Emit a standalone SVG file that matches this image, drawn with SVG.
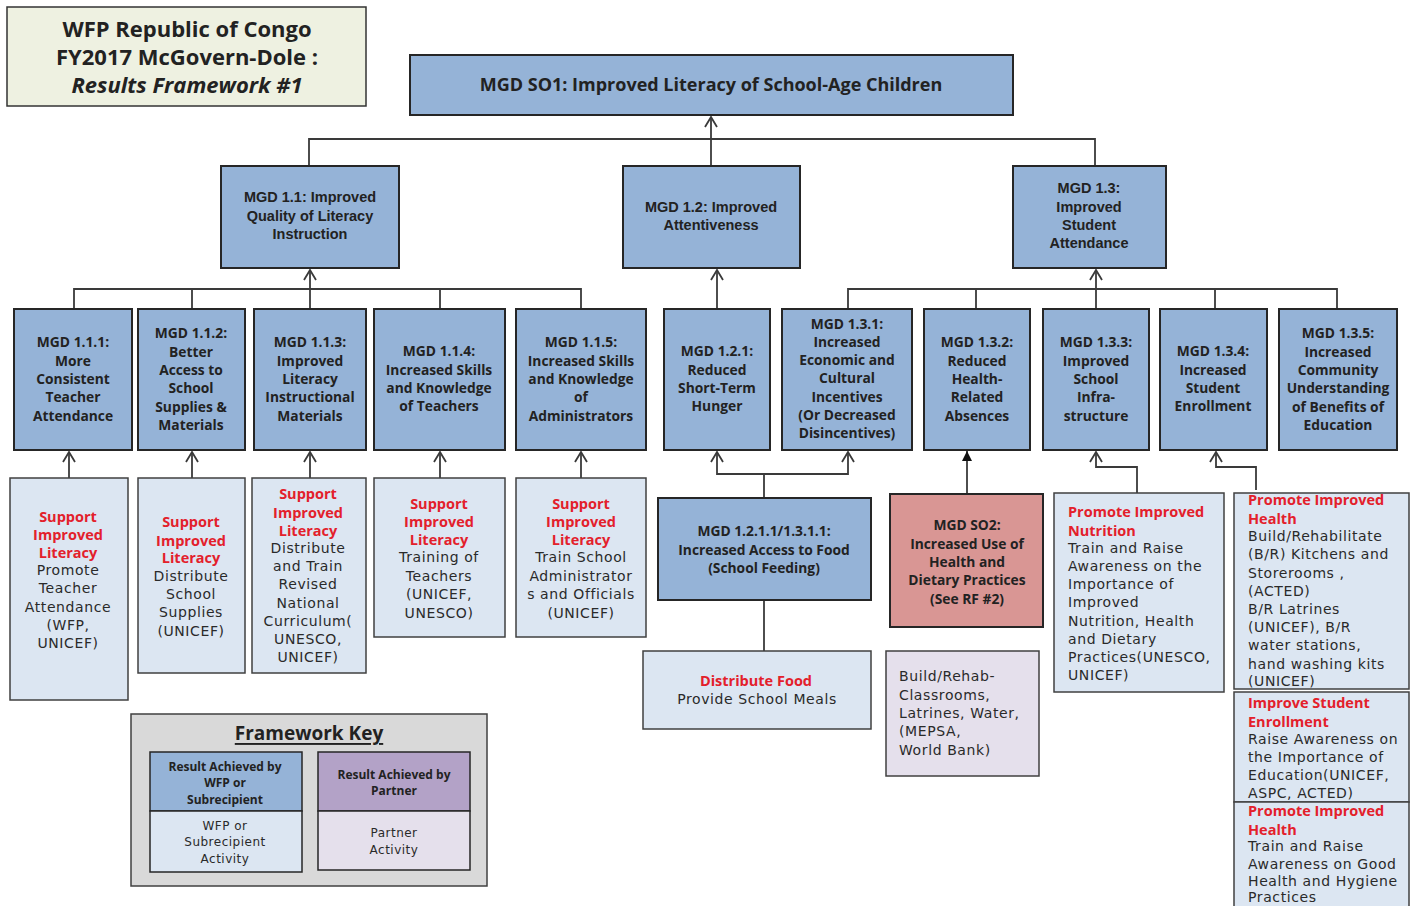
<svg xmlns="http://www.w3.org/2000/svg" width="1415" height="906" viewBox="0 0 1415 906">
<defs>
<style>
.bg{fill:#ffffff}
.b{fill:#95b3d7;stroke:#262626;stroke-width:2}
.a{fill:#dce6f2;stroke:#404040;stroke-width:1.5}
.p{fill:#e5e0ec;stroke:#404040;stroke-width:1.5}
.so2{fill:#d99694;stroke:#262626;stroke-width:2}
.ttl{fill:#eef1e1;stroke:#333;stroke-width:1.5}
.key{fill:#d9d9d9;stroke:#404040;stroke-width:1.5}
.kb{fill:#95b3d7;stroke:#262626;stroke-width:1.5}
.kl{fill:#dce6f2;stroke:#262626;stroke-width:1.5}
.kp{fill:#b3a2c7;stroke:#262626;stroke-width:1.5}
.kq{fill:#e5e0ec;stroke:#262626;stroke-width:1.5}
text{dominant-baseline:central;fill:#222}
.h{font-family:"Open Sans",sans-serif;font-weight:bold;font-size:22px;text-anchor:middle}
.hi{font-style:italic}
.s1{font-family:"Open Sans",sans-serif;font-weight:bold;font-size:18px;text-anchor:middle}
.t2{font-family:"Liberation Sans",sans-serif;font-weight:bold;font-size:14.5px;text-anchor:middle}
.t3{font-family:"Open Sans",sans-serif;font-weight:bold;font-size:13.8px;text-anchor:middle}
.r{font-family:"Open Sans",sans-serif;font-weight:bold;font-size:14.5px;fill:#e3202b}
.k{font-family:"DejaVu Sans",sans-serif;font-size:14px;letter-spacing:0.6px;fill:#2a2a2a}
.c{text-anchor:middle}
.fk{font-family:"Open Sans",sans-serif;font-weight:bold;font-size:19px;text-anchor:middle;text-decoration:underline}
.kt{font-family:"Open Sans",sans-serif;font-weight:bold;font-size:12px;text-anchor:middle}
.kr{font-family:"DejaVu Sans",sans-serif;font-size:12px;letter-spacing:0.5px;text-anchor:middle;fill:#2a2a2a}
.ln{fill:none;stroke:#3a3a3a;stroke-width:1.8}
</style>
<marker id="oa" viewBox="0 0 12 14" refX="11" refY="7" markerWidth="12" markerHeight="14" markerUnits="userSpaceOnUse" orient="auto">
<path d="M1,1 L11,7 L1,13" fill="none" stroke="#3a3a3a" stroke-width="1.8"/>
</marker>
<marker id="fa" viewBox="0 0 10 10" refX="10" refY="5" markerWidth="10" markerHeight="10" markerUnits="userSpaceOnUse" orient="auto">
<path d="M0,0 L10,5 L0,10 Z" fill="#111"/>
</marker>
</defs>
<rect class="bg" x="0" y="0" width="1415" height="906"/>

<g id="connectors">
<path class="ln" d="M711,166 V117" marker-end="url(#oa)"/>
<path class="ln" d="M309,166 V139 H1095 V166"/>
<path class="ln" d="M74,309 V289 H581 V309 M192,289 V309 M440,289 V309"/>
<path class="ln" d="M310,309 V270" marker-end="url(#oa)"/>
<path class="ln" d="M717,309 V270" marker-end="url(#oa)"/>
<path class="ln" d="M848,309 V289 H1337 V309 M976,289 V309 M1215,289 V309"/>
<path class="ln" d="M1096,309 V270" marker-end="url(#oa)"/>
<path class="ln" d="M69,478 V452" marker-end="url(#oa)"/>
<path class="ln" d="M192,478 V452" marker-end="url(#oa)"/>
<path class="ln" d="M310,478 V452" marker-end="url(#oa)"/>
<path class="ln" d="M440,478 V452" marker-end="url(#oa)"/>
<path class="ln" d="M581,478 V452" marker-end="url(#oa)"/>
<path class="ln" d="M764,498 V474 H717 V452" marker-end="url(#oa)"/>
<path class="ln" d="M764,474 H848 V452" marker-end="url(#oa)"/>
<path class="ln" d="M764,600 V651"/>
<path class="ln" d="M967,494 V451" marker-end="url(#fa)"/>
<path class="ln" d="M1137,493 V467 H1096 V452" marker-end="url(#oa)"/>
<path class="ln" d="M1256,490 V467 H1216 V452" marker-end="url(#oa)" stroke="#555"/>
</g>

<g id="title">
<rect class="ttl" x="7" y="7" width="359" height="99"/>
<text class="h" x="187" y="28">WFP Republic of Congo</text>
<text class="h" x="187" y="56">FY2017 McGovern-Dole :</text>
<text class="h hi" x="187" y="84">Results Framework #1</text>
</g>

<g id="so1">
<rect class="b" x="410" y="55" width="603" height="60"/>
<text class="s1" x="711" y="84">MGD SO1: Improved Literacy of School-Age Children</text>
</g>

<g id="mgd11">
<rect class="b" x="221" y="166" width="178" height="102"/>
<text class="t2" x="310"><tspan x="310" y="197">MGD 1.1: Improved</tspan><tspan x="310" y="216">Quality of Literacy</tspan><tspan x="310" y="234">Instruction</tspan></text>
</g>
<g id="mgd12">
<rect class="b" x="623" y="166" width="177" height="102"/>
<text class="t2"><tspan x="711" y="207">MGD 1.2: Improved</tspan><tspan x="711" y="225">Attentiveness</tspan></text>
</g>
<g id="mgd13">
<rect class="b" x="1013" y="166" width="153" height="102"/>
<text class="t2"><tspan x="1089" y="188">MGD 1.3:</tspan><tspan x="1089" y="207">Improved</tspan><tspan x="1089" y="225">Student</tspan><tspan x="1089" y="243">Attendance</tspan></text>
</g>

<g id="mgd111">
<rect class="b" x="14" y="309" width="118" height="141"/>
<text class="t3"><tspan x="73" y="341">MGD 1.1.1:</tspan><tspan x="73" y="360">More</tspan><tspan x="73" y="378">Consistent</tspan><tspan x="73" y="396">Teacher</tspan><tspan x="73" y="415">Attendance</tspan></text>
</g>
<g id="mgd112">
<rect class="b" x="138" y="309" width="107" height="141"/>
<text class="t3"><tspan x="191" y="332">MGD 1.1.2:</tspan><tspan x="191" y="351">Better</tspan><tspan x="191" y="369">Access to</tspan><tspan x="191" y="387">School</tspan><tspan x="191" y="406">Supplies &amp;</tspan><tspan x="191" y="424">Materials</tspan></text>
</g>
<g id="mgd113">
<rect class="b" x="254" y="309" width="112" height="141"/>
<text class="t3"><tspan x="310" y="341">MGD 1.1.3:</tspan><tspan x="310" y="360">Improved</tspan><tspan x="310" y="378">Literacy</tspan><tspan x="310" y="396">Instructional</tspan><tspan x="310" y="415">Materials</tspan></text>
</g>
<g id="mgd114">
<rect class="b" x="374" y="309" width="131" height="141"/>
<text class="t3"><tspan x="439" y="350">MGD 1.1.4:</tspan><tspan x="439" y="369">Increased Skills</tspan><tspan x="439" y="387">and Knowledge</tspan><tspan x="439" y="405">of Teachers</tspan></text>
</g>
<g id="mgd115">
<rect class="b" x="516" y="309" width="130" height="141"/>
<text class="t3"><tspan x="581" y="341">MGD 1.1.5:</tspan><tspan x="581" y="360">Increased Skills</tspan><tspan x="581" y="378">and Knowledge</tspan><tspan x="581" y="396">of</tspan><tspan x="581" y="415">Administrators</tspan></text>
</g>
<g id="mgd121">
<rect class="b" x="664" y="309" width="106" height="141"/>
<text class="t3"><tspan x="717" y="350">MGD 1.2.1:</tspan><tspan x="717" y="369">Reduced</tspan><tspan x="717" y="387">Short-Term</tspan><tspan x="717" y="405">Hunger</tspan></text>
</g>
<g id="mgd131">
<rect class="b" x="782" y="309" width="130" height="141"/>
<text class="t3"><tspan x="847" y="323">MGD 1.3.1:</tspan><tspan x="847" y="341">Increased</tspan><tspan x="847" y="359">Economic and</tspan><tspan x="847" y="377">Cultural</tspan><tspan x="847" y="396">Incentives</tspan><tspan x="847" y="414">(Or Decreased</tspan><tspan x="847" y="432">Disincentives)</tspan></text>
</g>
<g id="mgd132">
<rect class="b" x="924" y="309" width="106" height="141"/>
<text class="t3"><tspan x="977" y="341">MGD 1.3.2:</tspan><tspan x="977" y="360">Reduced</tspan><tspan x="977" y="378">Health-</tspan><tspan x="977" y="396">Related</tspan><tspan x="977" y="415">Absences</tspan></text>
</g>
<g id="mgd133">
<rect class="b" x="1043" y="309" width="106" height="141"/>
<text class="t3"><tspan x="1096" y="341">MGD 1.3.3:</tspan><tspan x="1096" y="360">Improved</tspan><tspan x="1096" y="378">School</tspan><tspan x="1096" y="396">Infra-</tspan><tspan x="1096" y="415">structure</tspan></text>
</g>
<g id="mgd134">
<rect class="b" x="1160" y="309" width="107" height="141"/>
<text class="t3"><tspan x="1213" y="350">MGD 1.3.4:</tspan><tspan x="1213" y="369">Increased</tspan><tspan x="1213" y="387">Student</tspan><tspan x="1213" y="405">Enrollment</tspan></text>
</g>
<g id="mgd135">
<rect class="b" x="1279" y="309" width="118" height="141"/>
<text class="t3"><tspan x="1338" y="332">MGD 1.3.5:</tspan><tspan x="1338" y="351">Increased</tspan><tspan x="1338" y="369">Community</tspan><tspan x="1338" y="387">Understanding</tspan><tspan x="1338" y="406">of Benefits of</tspan><tspan x="1338" y="424">Education</tspan></text>
</g>

<g id="act111">
<rect class="a" x="10" y="478" width="118" height="222"/>
<text class="r c"><tspan x="68" y="516">Support</tspan><tspan x="68" y="534">Improved</tspan><tspan x="68" y="552">Literacy</tspan></text>
<text class="k c"><tspan x="68" y="570">Promote</tspan><tspan x="68" y="588">Teacher</tspan><tspan x="68" y="607">Attendance</tspan><tspan x="68" y="625">(WFP,</tspan><tspan x="68" y="643">UNICEF)</tspan></text>
</g>
<g id="act112">
<rect class="a" x="138" y="478" width="107" height="195"/>
<text class="r c"><tspan x="191" y="521">Support</tspan><tspan x="191" y="540">Improved</tspan><tspan x="191" y="557">Literacy</tspan></text>
<text class="k c"><tspan x="191" y="576">Distribute</tspan><tspan x="191" y="594">School</tspan><tspan x="191" y="612">Supplies</tspan><tspan x="191" y="631">(UNICEF)</tspan></text>
</g>
<g id="act113">
<rect class="a" x="252" y="478" width="114" height="195"/>
<text class="r c"><tspan x="308" y="493">Support</tspan><tspan x="308" y="512">Improved</tspan><tspan x="308" y="530">Literacy</tspan></text>
<text class="k c"><tspan x="308" y="548">Distribute</tspan><tspan x="308" y="566">and Train</tspan><tspan x="308" y="584">Revised</tspan><tspan x="308" y="603">National</tspan><tspan x="308" y="621">Curriculum(</tspan><tspan x="308" y="639">UNESCO,</tspan><tspan x="308" y="657">UNICEF)</tspan></text>
</g>
<g id="act114">
<rect class="a" x="374" y="478" width="131" height="159"/>
<text class="r c"><tspan x="439" y="503">Support</tspan><tspan x="439" y="521">Improved</tspan><tspan x="439" y="539">Literacy</tspan></text>
<text class="k c"><tspan x="439" y="557">Training of</tspan><tspan x="439" y="576">Teachers</tspan><tspan x="439" y="594">(UNICEF,</tspan><tspan x="439" y="613">UNESCO)</tspan></text>
</g>
<g id="act115">
<rect class="a" x="516" y="478" width="130" height="159"/>
<text class="r c"><tspan x="581" y="503">Support</tspan><tspan x="581" y="521">Improved</tspan><tspan x="581" y="539">Literacy</tspan></text>
<text class="k c"><tspan x="581" y="557">Train School</tspan><tspan x="581" y="576">Administrator</tspan><tspan x="581" y="594">s and Officials</tspan><tspan x="581" y="613">(UNICEF)</tspan></text>
</g>

<g id="mgd1211">
<rect class="b" x="658" y="498" width="213" height="102"/>
<text class="t3"><tspan x="764" y="530">MGD 1.2.1.1/1.3.1.1:</tspan><tspan x="764" y="549">Increased Access to Food</tspan><tspan x="764" y="567">(School Feeding)</tspan></text>
</g>
<g id="food">
<rect class="a" x="643" y="651" width="228" height="78"/>
<text class="r c" x="756" y="680">Distribute Food</text>
<text class="k c" x="757" y="699">Provide School Meals</text>
</g>
<g id="so2">
<rect class="so2" x="890" y="494" width="153" height="133"/>
<text class="t3"><tspan x="967" y="524">MGD SO2:</tspan><tspan x="967" y="543">Increased Use of</tspan><tspan x="967" y="561">Health and</tspan><tspan x="967" y="579">Dietary Practices</tspan><tspan x="967" y="598">(See RF #2)</tspan></text>
</g>
<g id="partner">
<rect class="p" x="886" y="651" width="153" height="125"/>
<text class="k"><tspan x="899" y="676">Build/Rehab-</tspan><tspan x="899" y="695">Classrooms,</tspan><tspan x="899" y="713">Latrines, Water,</tspan><tspan x="899" y="731">(MEPSA,</tspan><tspan x="899" y="750">World Bank)</tspan></text>
</g>
<g id="nutrition">
<rect class="a" x="1054" y="493" width="170" height="199"/>
<text class="r"><tspan x="1068" y="511">Promote Improved</tspan><tspan x="1068" y="530">Nutrition</tspan></text>
<text class="k"><tspan x="1068" y="548">Train and Raise</tspan><tspan x="1068" y="566">Awareness on the</tspan><tspan x="1068" y="584">Importance of</tspan><tspan x="1068" y="602">Improved</tspan><tspan x="1068" y="621">Nutrition, Health</tspan><tspan x="1068" y="639">and Dietary</tspan><tspan x="1068" y="657">Practices(UNESCO,</tspan><tspan x="1068" y="675">UNICEF)</tspan></text>
</g>
<g id="health1">
<rect class="a" x="1234" y="493" width="175" height="196"/>
<text class="r"><tspan x="1248" y="499">Promote Improved</tspan><tspan x="1248" y="518">Health</tspan></text>
<text class="k"><tspan x="1248" y="536">Build/Rehabilitate</tspan><tspan x="1248" y="554">(B/R) Kitchens and</tspan><tspan x="1248" y="573">Storerooms ,</tspan><tspan x="1248" y="591">(ACTED)</tspan><tspan x="1248" y="609">B/R Latrines</tspan><tspan x="1248" y="627">(UNICEF),  B/R</tspan><tspan x="1248" y="645">water stations,</tspan><tspan x="1248" y="664">hand washing kits</tspan><tspan x="1248" y="681">(UNICEF)</tspan></text>
</g>
<g id="enroll">
<rect class="a" x="1234" y="692" width="175" height="110"/>
<text class="r"><tspan x="1248" y="702">Improve Student</tspan><tspan x="1248" y="721">Enrollment</tspan></text>
<text class="k"><tspan x="1248" y="739">Raise Awareness on</tspan><tspan x="1248" y="757">the Importance of</tspan><tspan x="1248" y="775">Education(UNICEF,</tspan><tspan x="1248" y="793">ASPC, ACTED)</tspan></text>
</g>
<g id="health2">
<rect class="a" x="1234" y="802" width="175" height="110"/>
<text class="r"><tspan x="1248" y="810">Promote Improved</tspan><tspan x="1248" y="829">Health</tspan></text>
<text class="k"><tspan x="1248" y="846">Train and Raise</tspan><tspan x="1248" y="864">Awareness on Good</tspan><tspan x="1248" y="881">Health and Hygiene</tspan><tspan x="1248" y="897">Practices</tspan></text>
</g>

<g id="key">
<rect class="key" x="131" y="714" width="356" height="172"/>
<text class="fk" x="309" y="733">Framework Key</text>
<rect class="kb" x="150" y="752" width="152" height="59"/>
<rect class="kl" x="150" y="811" width="152" height="61"/>
<text class="kt"><tspan x="225" y="766">Result Achieved by</tspan><tspan x="225" y="782">WFP or</tspan><tspan x="225" y="799">Subrecipient</tspan></text>
<text class="kr"><tspan x="225" y="826">WFP or</tspan><tspan x="225" y="842">Subrecipient</tspan><tspan x="225" y="859">Activity</tspan></text>
<rect class="kp" x="318" y="752" width="152" height="59"/>
<rect class="kq" x="318" y="811" width="152" height="59"/>
<text class="kt"><tspan x="394" y="774">Result Achieved by</tspan><tspan x="394" y="790">Partner</tspan></text>
<text class="kr"><tspan x="394" y="833">Partner</tspan><tspan x="394" y="850">Activity</tspan></text>
</g>
</svg>
